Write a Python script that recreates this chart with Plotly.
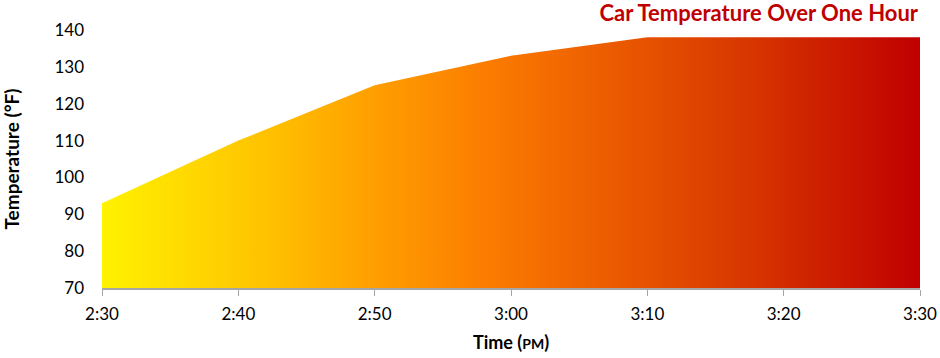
import plotly.graph_objects as go

times = ["2:30", "2:40", "2:50", "3:00", "3:10", "3:20", "3:30"]
temps = [93, 110, 125, 133, 138, 138, 138]
y_ticks = [70, 80, 90, 100, 110, 120, 130, 140]

FONT = "Lato, 'Open Sans', sans-serif"

fig = go.Figure()
fig.add_trace(go.Scatter(
    x=times, y=temps, mode="lines",
    line=dict(width=0, color="#F06000"),
    fill="tozeroy",
    fillgradient=dict(type="horizontal", colorscale=[
        [0.0, "#FFF200"],
        [0.2, "#FFC200"],
        [0.35, "#FF9A00"],
        [0.48, "#FB7A00"],
        [0.6, "#EE6000"],
        [0.8, "#D63400"],
        [1.0, "#C00000"],
    ]),
    hoverinfo="x+y",
))

fig.update_layout(
    width=940, height=358,
    margin=dict(l=102, r=20, t=30, b=70, autoexpand=False),
    plot_bgcolor="white", paper_bgcolor="white",
    showlegend=False,
    font=dict(family=FONT, size=17, color="#000000"),
    xaxis=dict(
        type="category", range=[0, len(times) - 1], automargin=False,
        showgrid=False, showline=True, linecolor="#A6A6A6", linewidth=1.5,
        ticks="outside", ticklen=6, tickcolor="#A6A6A6",
        tickfont=dict(size=17), ticklabelstandoff=4,
        title=dict(text="<b>Time (<span style='font-size:14px'>PM</span>)</b>", font=dict(size=18), standoff=13),
    ),
    yaxis=dict(
        range=[70, 140], tickvals=y_ticks, automargin=False,
        showgrid=False, showline=False, zeroline=False,
        ticks="", tickfont=dict(size=17), ticklabelstandoff=17,
        title=dict(text="<b>Temperature (°F)</b>", font=dict(size=19), standoff=32),
    ),
    title=dict(
        text="<b>Car Temperature Over One Hour</b>",
        font=dict(size=22, color="#C00000"),
        x=918 / 940, xanchor="right", xref="container",
        y=1 - 13.5 / 358, yref="container", yanchor="middle",
    ),
)

fig.write_html(
    "out.html",
    config={"displayModeBar": False},
    post_script="document.body.style.margin='0';document.body.style.overflow='hidden';",
)
